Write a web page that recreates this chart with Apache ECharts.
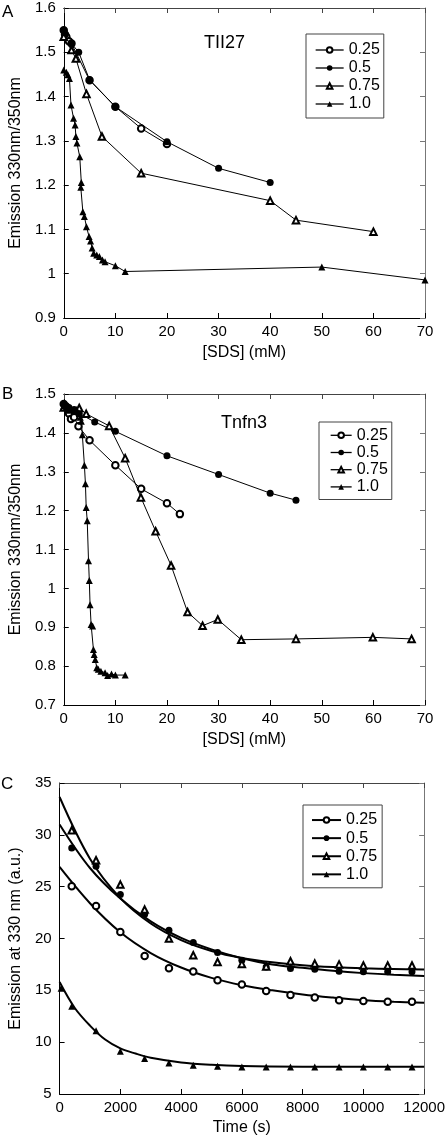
<!DOCTYPE html>
<html><head><meta charset="utf-8">
<script src="https://cdn.jsdelivr.net/npm/echarts@6/dist/echarts.min.js"></script>
<style>html,body{margin:0;padding:0;background:#fff}#c{width:448px;height:1141px}</style>
</head><body><div id="c"></div><script>
// ---------- Panel A: TII27, ratio vs [SDS] ----------
const a025 = [[0,1.55],[0.25,1.54],[0.5,1.535],[1,1.525],[1.5,1.52],[5,1.437],[10,1.377],[15,1.328],[20,1.293]];
const a05  = [[0,1.55],[0.3,1.54],[1.5,1.52],[2.9,1.50],[5,1.438],[10,1.377],[20,1.298],[30,1.238],[40,1.206]];
const a075 = [[0,1.535],[1.5,1.505],[2.35,1.486],[4.4,1.406],[7.4,1.31],[15,1.227],[40,1.165],[45,1.121],[60,1.095]];
const a10  = [[0,1.46],[0.5,1.455],[0.8,1.449],[1.1,1.441],[1.4,1.381],[1.9,1.351],[2.2,1.336],[2.35,1.31],[2.55,1.295],[3.1,1.264],[3.4,1.206],[3.3,1.195],[3.7,1.14],[4.0,1.129],[4.4,1.106],[4.9,1.084],[5.2,1.074],[5.5,1.058],[5.8,1.046],[6.4,1.042],[6.9,1.039],[7.5,1.031],[8,1.027],[10,1.018],[11.9,1.005],[50,1.015],[70,0.986]];
// ---------- Panel B: Tnfn3 ----------
const b025 = [[0,1.474],[0.5,1.465],[1,1.45],[1.4,1.436],[2,1.44],[2.85,1.417],[5,1.381],[10,1.317],[15,1.256],[20,1.219],[22.5,1.191]];
const b05  = [[0,1.474],[0.5,1.47],[1,1.465],[2,1.46],[2.5,1.455],[3,1.45],[6,1.428],[10,1.404],[20,1.341],[30,1.293],[40,1.245],[45,1.227]];
const b075 = [[0,1.465],[1.1,1.46],[3,1.464],[4.35,1.449],[8.8,1.418],[11.9,1.335],[14.95,1.234],[17.8,1.147],[20.8,1.059],[24,0.939],[26.9,0.904],[29.85,0.92],[34.4,0.868],[45,0.87],[59.9,0.874],[67.4,0.87]];
const b10  = [[0,1.47],[0.5,1.468],[1,1.463],[1.5,1.46],[2,1.455],[2.5,1.46],[3,1.45],[3.2,1.44],[3.4,1.43],[3.6,1.395],[4,1.317],[4.2,1.269],[4.35,1.208],[4.55,1.174],[4.8,1.071],[4.95,1.02],[5.1,0.958],[5.3,0.907],[5.6,0.903],[5.75,0.843],[5.9,0.83],[6.1,0.817],[6.4,0.796],[6.7,0.792],[7.2,0.787],[8,0.783],[8.5,0.776],[9.25,0.78],[10,0.777],[11.9,0.777]];
// ---------- Panel C: emission vs time ----------
const c025 = [[400,25.04],[1200,23.14],[2000,20.63],[2800,18.32],[3600,17.13],[4400,16.81],[5200,15.97],[6000,15.56],[6800,14.94],[7600,14.56],[8400,14.31],[9200,14.05],[10000,13.98],[10800,13.89],[11600,13.89]];
const c05  = [[400,28.73],[1200,26.97],[2000,24.24],[2800,22.34],[3600,20.8],[4400,19.61],[5200,18.65],[6000,17.9],[6800,17.26],[7600,17.1],[8400,17.03],[9200,16.84],[10000,16.8],[10800,16.8],[11600,16.8]];
const c075 = [[400,30.44],[1200,27.55],[2000,25.2],[2800,22.79],[3600,19.99],[4400,18.38],[5200,17.74],[6000,17.55],[6800,17.3],[7600,17.8],[8400,17.58],[9200,17.5],[10000,17.4],[10800,17.4],[11600,17.4]];
const c10  = [[50,15.2],[400,13.47],[1200,11.09],[2000,9.13],[2800,8.42],[3600,8.0],[4400,7.78],[5200,7.68],[6000,7.61],[6800,7.6],[7600,7.6],[8400,7.6],[9200,7.6],[10000,7.6],[10800,7.6],[11600,7.6]];
// fitted curves
const f025 = [[0,26.9],[1000,23.4],[2000,20.6],[3000,18.6],[4000,17.2],[5000,16.2],[6000,15.5],[7000,15.0],[8000,14.6],[9000,14.3],[10000,14.05],[11000,13.9],[12000,13.8]];
const f05  = [[0,31.0],[1000,26.8],[2000,23.85],[3000,21.65],[4000,20.06],[5000,18.95],[6000,18.1],[7000,17.5],[8000,17.17],[9000,16.88],[10000,16.66],[11000,16.5],[12000,16.39]];
const f075 = [[0,33.65],[1000,27.7],[2000,23.9],[3000,21.45],[4000,19.85],[5000,18.8],[6000,18.12],[7000,17.7],[8000,17.42],[9000,17.24],[10000,17.12],[11000,17.05],[12000,17.0]];
const f10  = [[0,15.8],[500,13.3],[1000,11.6],[1500,10.25],[2000,9.4],[2500,8.9],[3000,8.5],[4000,8.05],[5000,7.82],[6000,7.7],[8000,7.63],[10000,7.62],[12000,7.62]];

const seriesNames = ['0.25','0.5','0.75','1.0'];
const xTicksSDS = {min:0,max:70,interval:10};
const xTicksTime = {min:0,max:12000,interval:2000};
const yTicksA = {min:0.9,max:1.6,interval:0.1};
const yTicksB = {min:0.7,max:1.5,interval:0.1};
const yTicksC = {min:5,max:35,interval:5};

const FONT = '"Liberation Sans", Arial, Helvetica, sans-serif';
const symbols = {'0.25':'emptyCircle','0.5':'circle','0.75':'emptyTriangle','1.0':'triangle'};
const sizes = {'0.25':6.5,'0.5':7,'0.75':6.5,'1.0':7};

const chart = echarts.init(document.getElementById('c'), null, {renderer:'canvas'});

const grids = [
  {left:53, top:8, width:372, height:310},
  {left:53, top:394, width:372, height:311},
  {left:52, top:783, width:373, height:311}
];

const plain = v => String(v);
const fmt1 = v => String(Math.round(v*10)/10);

function xAxes(gi, ticks, name, gap){
  return [
    {gridIndex:gi, type:'value', position:'bottom', min:ticks.min, max:ticks.max, interval:ticks.interval,
     name:name, nameLocation:'middle', nameGap:gap, nameTextStyle:{fontFamily:FONT,fontSize:16,color:'#000'},
     axisLine:{show:true,onZero:false,lineStyle:{color:'#000',width:1}},
     axisTick:{show:true,inside:true,length:5,lineStyle:{color:'#000'}},
     axisLabel:{fontFamily:FONT,fontSize:15,color:'#000',margin:6,formatter:plain,showMinLabel:true,showMaxLabel:true},
     splitLine:{show:false}},
    {gridIndex:gi, type:'value', position:'top', min:ticks.min, max:ticks.max, interval:ticks.interval,
     axisLine:{show:true,onZero:false,lineStyle:{color:'#444',width:1}},
     axisTick:{show:true,inside:true,length:5,lineStyle:{color:'#444'}},
     axisLabel:{show:false}, splitLine:{show:false}}
  ];
}
function yAxes(gi, ticks, name, gap, fmt){
  return [
    {gridIndex:gi, type:'value', position:'left', min:ticks.min, max:ticks.max, interval:ticks.interval,
     name:name, nameLocation:'middle', nameGap:gap, nameTextStyle:{fontFamily:FONT,fontSize:16,color:'#000'},
     axisLine:{show:true,onZero:false,lineStyle:{color:'#000',width:1}},
     axisTick:{show:true,inside:true,length:5,lineStyle:{color:'#000'}},
     axisLabel:{fontFamily:FONT,fontSize:15,color:'#000',margin:8,formatter:fmt,showMinLabel:true,showMaxLabel:true},
     splitLine:{show:false}},
    {gridIndex:gi, type:'value', position:'right', min:ticks.min, max:ticks.max, interval:ticks.interval,
     axisLine:{show:true,onZero:false,lineStyle:{color:'#777',width:1}},
     axisTick:{show:true,inside:true,length:5,lineStyle:{color:'#777'}},
     axisLabel:{show:false}, splitLine:{show:false}}
  ];
}

function pointSeries(panel, name, data, axisIdx, withLine){
  const empty = symbols[name].indexOf('empty') === 0;
  return {
    name: panel + '-' + name, type:'line', xAxisIndex:axisIdx, yAxisIndex:axisIdx, data:data,
    symbol: symbols[name], symbolSize: sizes[name], showSymbol:true, showAllSymbol:true, z:3,
    lineStyle: withLine ? {color:'#000', width:1} : {color:'#000', width:1, opacity:0},
    itemStyle: empty ? {color:'#000', borderColor:'#000', borderWidth:1} : {color:'#000', borderWidth:0},
    emphasis:{disabled:true}, animation:false
  };
}
function fitSeries(data, axisIdx){
  return {type:'line', xAxisIndex:axisIdx, yAxisIndex:axisIdx, data:data, smooth:0.35,
    showSymbol:false, symbol:'none', lineStyle:{color:'#000', width:2}, z:2, silent:true, animation:false};
}

const series = [
  pointSeries('A','0.25',a025,0,true), pointSeries('A','0.5',a05,0,true),
  pointSeries('A','0.75',a075,0,true), pointSeries('A','1.0',a10,0,true),
  pointSeries('B','0.25',b025,2,true), pointSeries('B','0.5',b05,2,true),
  pointSeries('B','0.75',b075,2,true), pointSeries('B','1.0',b10,2,true),
  fitSeries(f025,4), fitSeries(f05,4), fitSeries(f075,4), fitSeries(f10,4),
  pointSeries('C','0.25',c025,4,false), pointSeries('C','0.5',c05,4,false),
  pointSeries('C','0.75',c075,4,false), pointSeries('C','1.0',c10,4,false)
];

function legend(panel, left, top, padding, itemWidth, lineHeight, lineWidth){
  return {
    orient:'vertical', left:left, top:top, padding:padding, itemGap:0,
    itemWidth:itemWidth, itemHeight:7, selectedMode:false,
    borderColor:'#444', borderWidth:1, backgroundColor:'#fff',
    textStyle:{fontFamily:FONT, fontSize:16, color:'#000', lineHeight:lineHeight},
    formatter: n => n.slice(2),
    data: seriesNames.map(n => ({name: panel + '-' + n, lineStyle:{color:'#000', width:lineWidth, opacity:1}}))
  };
}

function txt(text, x, y, size){
  return {type:'text', left:x, top:y, style:{text:text, font: size + 'px ' + FONT, fill:'#000'}, silent:true};
}

chart.setOption({
  animation:false,
  backgroundColor:'#fff',
  grid: grids,
  xAxis: [].concat(xAxes(0,xTicksSDS,'[SDS] (mM)',27), xAxes(1,xTicksSDS,'[SDS] (mM)',27), xAxes(2,xTicksTime,'Time (s)',26)),
  yAxis: [].concat(yAxes(0,yTicksA,'Emission 330nm/350nm',34,fmt1), yAxes(1,yTicksB,'Emission 330nm/350nm',34,fmt1), yAxes(2,yTicksC,'Emission at 330 nm (a.u.)',34,plain)),
  legend: [
    legend('A', 306, 34, [7,4,5,9], 28, 18, 1.3),
    legend('B', 319, 422, [4.7,4,4,11], 21, 17.2, 1.3),
    legend('C', 303, 805, [6,5,4.4,8], 29, 18.1, 2)
  ],
  graphic: [
    txt('A', 2, 4, 17), txt('B', 2, 386, 17), txt('C', 1, 776, 17),
    txt('TII27', 204, 34, 18), txt('Tnfn3', 221, 414, 18)
  ],
  series: series
});
</script></body></html>
